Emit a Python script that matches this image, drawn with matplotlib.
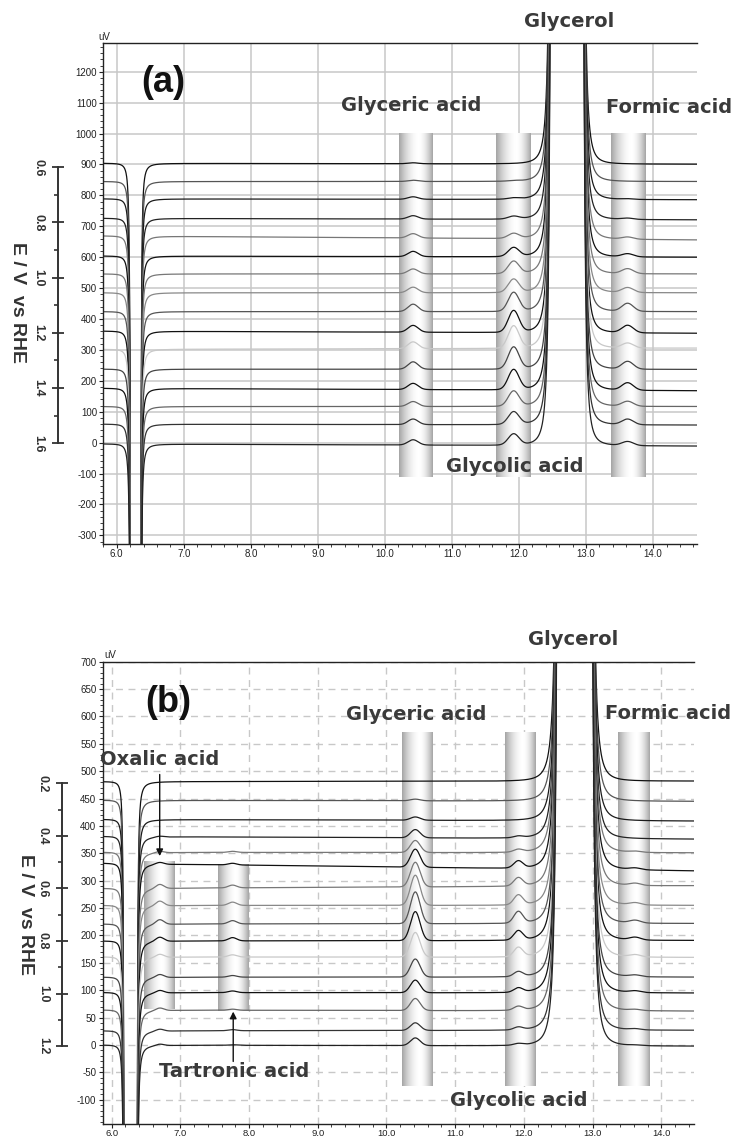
import numpy as np
import matplotlib
matplotlib.use('Agg')
import matplotlib.pyplot as plt
from matplotlib.ticker import MultipleLocator, FormatStrFormatter

plt.rcParams['font.family'] = ['Liberation Sans', 'DejaVu Sans']

# retention times (min) of the labelled products
rt_oxalic = 6.70
rt_tartronic = 7.76
rt_glyceric = 10.42
rt_glycolic = 11.92
rt_formic = 13.62

# (a) 16 chromatograms, E = 0.6 ... 1.6 V vs RHE (uV, baseline at start / end)
base_start_a = [904, 845, 789, 726, 669, 604, 546, 485, 424, 361, 302, 238, 176, 117, 60, -4]
base_end_a = [901, 845, 786, 721, 656, 600, 546, 485, 424, 354, 306, 237, 168, 117, 57, -11]
glyceric_a = [3, 4, 8, 11, 14, 17, 16, 18, 24, 22, 22, 24, 20, 16, 18, 17]
glycolic_a = [0, 2, 4, 9, 16, 29, 40, 43, 61, 70, 72, 71, 65, 49, 41, 36]
formic_a = [0, 0, 2, 4, 7, 10, 16, 16, 26, 24, 16, 25, 24, 16, 18, 13]

# (b) 16 chromatograms, E = 0.2 ... 1.2 V vs RHE
base_start_b = [481, 447, 412, 381, 352, 332, 286, 255, 221, 190, 161, 124, 96, 64, 26, 0]
base_end_b = [482, 445, 409, 376, 351, 318, 291, 255, 222, 191, 160, 124, 95, 62, 27, -2]
glyceric_b = [0, 3, 6, 15, 22, 33, 45, 55, 58, 53, 45, 33, 23, 22, 14, 14]
glycolic_b = [0, 0, 0, 3, 5, 13, 15, 18, 21, 17, 17, 9, 8, 7, 5, 3]
formic_b = [0, 0, 0, 0, 2, 3, 4, 4, 5, 5, 4, 3, 3, 2, 2, 1]
oxalic_b = [0, 0, 0, 2, 3, 4, 8, 9, 9, 8, 6, 6, 5, 5, 4, 3]
tartronic_b = [0, 0, 0, 0, 2, 3, 5, 6, 6, 6, 4, 3, 3, 2, 2, 1]

trace_colors = ['#111111', '#555555', '#1a1a1a', '#222222', '#777777', '#111111', '#777777', '#888888',
                '#555555', '#111111', '#c8c8c8', '#444444', '#111111', '#666666', '#333333', '#222222']

# E axis anchors: potential <-> uV level of first / last trace
e_ticks_a = [0.6, 1.6]
e_uv_a = [891, -2]
e_ticks_b = [0.2, 1.2]
e_uv_b = [478, -2]


def gauss(x, c, h, s):
    return h * np.exp(-0.5 * ((x - c) / s) ** 2)


def off_scale(x, lo, hi, a_l, n_l, a_r, n_r, big=1e5):
    # huge peak (off scale) between lo and hi with steep flanks
    dl = np.clip(lo - x, 1e-4, None)
    dr = np.clip(x - hi, 1e-4, None)
    y = np.where(x < lo, a_l / dl ** n_l, np.where(x > hi, a_r / dr ** n_r, big))
    return np.minimum(y, big)


def band(ax, x0, x1, y0, y1):
    t = np.linspace(0, 1, 300)
    mid = 0.58
    d = np.where(t < mid, (mid - t) / mid, (t - mid) / (1 - mid))
    shade = 1 - 0.36 * d ** 1.8
    ax.imshow(shade[None, :], extent=[x0, x1, y0, y1], aspect='auto', cmap='gray',
              vmin=0, vmax=1, zorder=1.5, interpolation='bilinear')


def style_axes(ax, xlim, ylim, ymaj, ymin, dashed):
    ax.set_xlim(*xlim)
    ax.set_ylim(*ylim)
    ax.xaxis.set_major_locator(MultipleLocator(1))
    ax.xaxis.set_minor_locator(MultipleLocator(0.2))
    ax.xaxis.set_major_formatter(FormatStrFormatter('%.1f'))
    ax.yaxis.set_major_locator(MultipleLocator(ymaj))
    ax.yaxis.set_minor_locator(MultipleLocator(ymin))
    ax.yaxis.set_major_formatter(FormatStrFormatter('%d'))
    ax.tick_params(which='major', length=3, width=0.8, labelsize=7, direction='out', pad=1.5, colors='#222222')
    ax.tick_params(axis='x', which='major', pad=0.8)
    ax.tick_params(which='minor', length=2, width=0.6, direction='out', colors='#222222')
    ax.spines['right'].set_visible(False)
    for s in ['top', 'left', 'bottom']:
        ax.spines[s].set_linewidth(1.0)
        ax.spines[s].set_color('#222222')
    ax.set_axisbelow(True)
    if dashed:
        ax.grid(True, which='major', color='#c8c8c8', lw=1.0, ls=(0, (5, 4)))
    else:
        ax.grid(True, which='major', color='#c8c8c8', lw=1.1)


def e_axis(fig, rect, ylim, e_ticks, e_uv, major, minor):
    eax = fig.add_axes(rect)
    # linear map uV -> E
    slope = (e_ticks[1] - e_ticks[0]) / (e_uv[1] - e_uv[0])
    e0 = e_ticks[0] + (ylim[0] - e_uv[0]) * slope
    e1 = e_ticks[0] + (ylim[1] - e_uv[0]) * slope
    eax.set_ylim(e0, e1)
    eax.patch.set_visible(False)
    for s in ['top', 'right', 'bottom']:
        eax.spines[s].set_visible(False)
    eax.spines['left'].set_bounds(e_ticks[0], e_ticks[1])
    eax.spines['left'].set_linewidth(1.4)
    eax.spines['left'].set_color('#333333')
    eax.set_xticks([])
    majors = np.arange(e_ticks[0], e_ticks[1] + 1e-6, major)
    minors = np.arange(e_ticks[0], e_ticks[1] + 1e-6, minor)
    eax.set_yticks(majors)
    eax.set_yticks(minors, minor=True)
    eax.tick_params(axis='y', which='major', direction='inout', length=8.5, width=1.3,
                    colors='#333333', pad=5, labelsize=9)
    eax.tick_params(axis='y', which='minor', direction='out', length=3, width=1.2, colors='#333333')
    eax.set_yticklabels(['%.1f' % v for v in majors], fontsize=9, fontweight='bold',
                        rotation=-90, va='center', color='#333333')
    return eax


fig = plt.figure(figsize=(7.36, 11.41), dpi=100)
lab_kw = dict(fontfamily='DejaVu Sans', fontweight='bold', fontsize=14, color='#3a3a3a',
              ha='center', va='center', zorder=5)

# ---------------- panel (a)
ax = fig.add_axes([0.1404, 0.5232, 0.8062, 0.4391])
xlim_a = (5.80, 14.65)
ylim_a = (-328, 1293)
x = np.linspace(xlim_a[0], xlim_a[1], 4000)
for x0, x1 in [(10.21, 10.71), (11.66, 12.17), (13.37, 13.88)]:
    band(ax, x0, x1, -111, 1001)
for i in range(len(base_start_a)):
    y = base_start_a[i] + (base_end_a[i] - base_start_a[i]) * (x - x[0]) / (x[-1] - x[0])
    y = y + gauss(x, rt_glyceric, glyceric_a[i], 0.075)
    y = y + gauss(x, rt_glycolic, glycolic_a[i], 0.08)
    y = y + gauss(x, rt_formic, formic_a[i], 0.085)
    y = y - off_scale(x, 6.23, 6.35, 0.0243, 3, 0.21, 2)
    y = y + off_scale(x, 12.53, 12.90, 0.43, 3, 0.43, 3)
    ax.plot(x, y, color=trace_colors[i], lw=0.9, zorder=2)
style_axes(ax, xlim_a, ylim_a, 100, 20, False)
ax.text(6.69, 1164, '(a)', fontsize=26, fontweight='bold', color='#111111', ha='center', va='center')
ax.text(10.39, 1092, 'Glyceric acid', **lab_kw)
ax.text(14.24, 1083, 'Formic acid', **lab_kw)
ax.text(12.74, 1361, 'Glycerol', **lab_kw)
ax.text(11.94, -76, 'Glycolic acid', **lab_kw)
fig.text(104 / 736, 1 - 37 / 1141, 'uV', fontsize=7, ha='center', va='center', color='#222222')
e_axis(fig, [57.5 / 736, 0.5232, 0.0001, 0.4391], ylim_a, e_ticks_a, e_uv_a, 0.2, 0.1)
fig.text(17 / 736, 1 - 303 / 1141, 'E / V  vs RHE', rotation=-90, fontsize=14, fontweight='bold',
         color='#333333', ha='center', va='center')

# ---------------- panel (b)
ax = fig.add_axes([0.1395, 0.0150, 0.8038, 0.4051])
xlim_b = (5.87, 14.48)
ylim_b = (-144, 700)
x = np.linspace(xlim_b[0], xlim_b[1], 4000)
for x0, x1 in [(10.22, 10.66), (11.73, 12.17), (13.37, 13.83)]:
    band(ax, x0, x1, -75, 570)
band(ax, 6.47, 6.91, 65, 334)
band(ax, 7.55, 8.00, 62, 330)
for i in range(len(base_start_b)):
    y = base_start_b[i] + (base_end_b[i] - base_start_b[i]) * (x - x[0]) / (x[-1] - x[0])
    y = y + gauss(x, rt_oxalic, oxalic_b[i], 0.06)
    y = y + gauss(x, rt_tartronic, tartronic_b[i], 0.06)
    y = y + gauss(x, rt_glyceric, glyceric_b[i], 0.07)
    y = y + gauss(x, rt_glycolic, glycolic_b[i], 0.065)
    y = y + gauss(x, rt_formic, formic_b[i], 0.08)
    y = y - off_scale(x, 6.20, 6.36, 0.0081, 3, 0.146, 2)
    y = y + off_scale(x, 12.56, 12.92, 0.43, 3, 0.43, 3)
    ax.plot(x, y, color=trace_colors[i], lw=0.9, zorder=2)
style_axes(ax, xlim_b, ylim_b, 50, 10, True)
ax.tick_params(axis='x', which='major', labelsize=6.8, pad=0.5)
ax.text(6.82, 625, '(b)', fontsize=26, fontweight='bold', color='#111111', ha='center', va='center')
ax.text(6.70, 521, 'Oxalic acid', **lab_kw)
ax.text(7.79, -48, 'Tartronic acid', **lab_kw)
ax.text(10.44, 603, 'Glyceric acid', **lab_kw)
ax.text(14.10, 605, 'Formic acid', **lab_kw)
ax.text(12.72, 741, 'Glycerol', **lab_kw)
ax.text(11.93, -102, 'Glycolic acid', **lab_kw)
arrow_kw = dict(arrowstyle='-|>', lw=1.0, color='#111111', mutation_scale=10, shrinkA=0, shrinkB=0)
ax.annotate('', xy=(rt_oxalic, 345), xytext=(rt_oxalic, 494), arrowprops=arrow_kw, zorder=5)
ax.annotate('', xy=(7.77, 61), xytext=(7.77, -30), arrowprops=arrow_kw, zorder=5)
fig.text(104 / 736, 1 - 655 / 1141, 'uV', fontsize=7, ha='left', va='center', color='#222222')
e_axis(fig, [61.7 / 736, 0.0150, 0.0001, 0.4051], ylim_b, e_ticks_b, e_uv_b, 0.2, 0.1)
fig.text(25 / 736, 1 - 914 / 1141, 'E / V  vs RHE', rotation=-90, fontsize=14, fontweight='bold',
         color='#333333', ha='center', va='center')

fig.savefig('out.png', dpi=100)
